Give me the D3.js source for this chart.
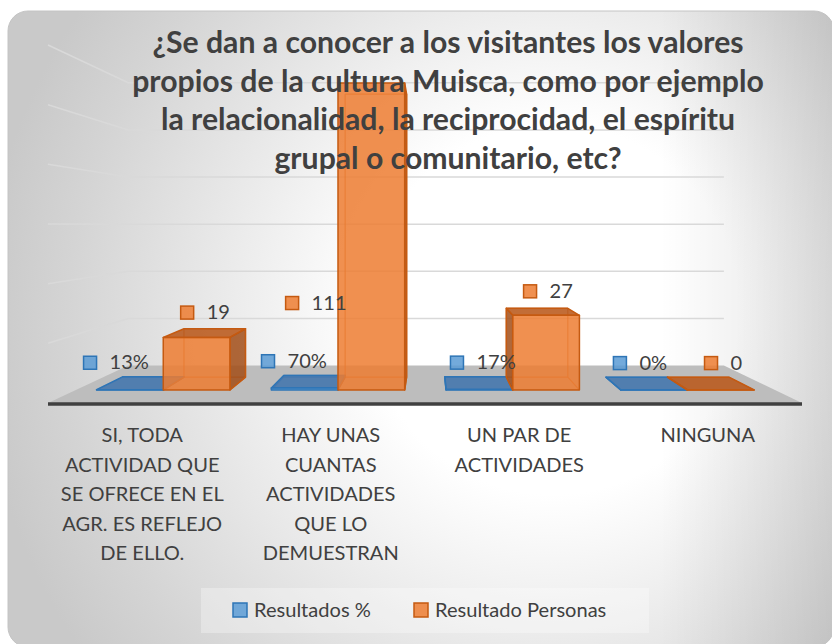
<!DOCTYPE html>
<html>
<head>
<meta charset="utf-8">
<script src="https://cdn.jsdelivr.net/npm/d3@7"></script>
<style>
  body { margin: 0; background: #fff; }
  svg { display: block; }
</style>
</head>
<body>
<div id="chart"></div>
<script>
// data
const categories = [
  "SI, TODA ACTIVIDAD QUE SE OFRECE EN EL AGR. ES REFLEJO DE ELLO.",
  "HAY UNAS CUANTAS ACTIVIDADES QUE LO DEMUESTRAN",
  "UN PAR DE ACTIVIDADES",
  "NINGUNA"
];
const categoryLines = [
  ["SI, TODA", "ACTIVIDAD QUE", "SE OFRECE EN EL", "AGR. ES REFLEJO", "DE ELLO."],
  ["HAY UNAS", "CUANTAS", "ACTIVIDADES", "QUE LO", "DEMUESTRAN"],
  ["UN PAR DE", "ACTIVIDADES"],
  ["NINGUNA"]
];
const seriesNames = ["Resultados %", "Resultado Personas"];
const pctValues = [0.13, 0.70, 0.17, 0.00];
const personValues = [19, 111, 27, 0];
const yTicks = [20, 40, 60, 80, 100, 120];
const titleLines = [
  "¿Se dan a conocer a los visitantes los valores",
  "propios de la cultura Muisca, como por ejemplo",
  "la relacionalidad, la reciprocidad, el espíritu",
  "grupal o comunitario, etc?"
];

// layout
const width = 832;
const height = 644;
const FONT = "Lato, 'Open Sans', sans-serif";
const textColor = "#404040";
const vp = { x: 430, y: 225 };          // vanishing point of the 3D view
const depth = { front: 1, back: 0.79, barFront: 0.927, barBack: 0.855 };
// label nudges (Excel places the 3D labels a bit freely)
const labelDx = [[-32, -22, -1, -6], [1, -62, 8, 21]];
const labelDy = [[0, 0, 0, 0], [0, 235, 0, 0]];

const colors = [
  { front: "#5B9BD5", top: "#4275AD", side: "#2F5A8A", edge: "#2E75B6" },
  { front: "#ED7D31", top: "#B9591B", side: "#A24E18", edge: "#C55A11" }
];

const svg = d3
  .select("#chart")
  .append("svg")
  .attr("width", width)
  .attr("height", height);

const defs = svg.append("defs");
const bg = defs
  .append("radialGradient")
  .attr("id", "bg")
  .attr("gradientUnits", "userSpaceOnUse")
  .attr("cx", 540)
  .attr("cy", 330)
  .attr("r", 560)
  .attr("fx", 560)
  .attr("fy", 300);
bg.append("stop").attr("offset", 0).attr("stop-color", "#ffffff");
bg.append("stop").attr("offset", 0.33).attr("stop-color", "#ffffff");
bg.append("stop").attr("offset", 0.85).attr("stop-color", "#d4d4d4");
bg.append("stop").attr("offset", 1).attr("stop-color", "#c9c9c9");

const rightShade = defs
  .append("linearGradient")
  .attr("id", "rightShade")
  .attr("gradientUnits", "userSpaceOnUse")
  .attr("x1", 660).attr("x2", 832).attr("y1", 0).attr("y2", 0);
rightShade.append("stop").attr("offset", 0).attr("stop-color", "#000").attr("stop-opacity", 0);
rightShade.append("stop").attr("offset", 1).attr("stop-color", "#000").attr("stop-opacity", 0.11);

const frame = { x: 8, y: 11, w: 826, h: 636, r: 20 };

svg.append("rect")
  .attr("x", frame.x).attr("y", frame.y)
  .attr("width", frame.w).attr("height", frame.h)
  .attr("rx", frame.r)
  .attr("fill", "url(#bg)");

svg.append("rect")
  .attr("x", frame.x).attr("y", frame.y)
  .attr("width", frame.w).attr("height", frame.h)
  .attr("rx", frame.r)
  .attr("fill", "url(#rightShade)")
  .attr("stroke", "#c4c4c4")
  .attr("stroke-width", 1);

function fitFont(str, weight, target) {
  const t = svg.append("text")
    .attr("font-family", FONT)
    .attr("font-weight", weight)
    .attr("font-size", 100)
    .text(str);
  const w = t.node().getComputedTextLength();
  t.remove();
  return (100 * target) / w;
}

const titleSize = fitFont(titleLines[1], "bold", 632);
const labelSize = fitFont("SE OFRECE EN EL", "normal", 163);

// scales
const x = d3.scaleBand().domain(categories).range([48, 802]);
const xs = d3.scaleBand().domain(seriesNames).range([0, x.bandwidth()]).paddingOuter(0.31);
const y = d3.scaleLinear().domain([0, 120]).range([403, 45]);

const P = (X, Y, s) => [vp.x + (X - vp.x) * s, vp.y + (Y - vp.y) * s];
const line = d3.line();

// walls: left side and back gridlines
const grid = svg.append("g")
  .attr("fill", "none")
  .attr("stroke", "#d9d9d9")
  .attr("stroke-width", 1.5);

grid.selectAll("path")
  .data(yTicks)
  .join("path")
  .attr("d", (v) =>
    line([
      P(48, y(v), depth.front),
      P(48, y(v), depth.back),
      P(802, y(v), depth.back)
    ])
  );

// floor
svg.append("path")
  .attr("d", line([
    P(48, y(0), depth.front),
    P(802, y(0), depth.front),
    P(802, y(0), depth.back),
    P(48, y(0), depth.back)
  ]) + "Z")
  .attr("fill", "#bdbdbd");

svg.append("line")
  .attr("x1", 48).attr("x2", 802)
  .attr("y1", y(0) + 1).attr("y2", y(0) + 1)
  .attr("stroke", "#404040")
  .attr("stroke-width", 3.5);

// bars as 3D boxes
const bars = [];
categories.forEach((c, i) => {
  [pctValues[i], personValues[i]].forEach((v, k) => {
    bars.push({ cat: c, i, k, value: v, series: seriesNames[k] });
  });
});

const barG = svg.append("g");

bars.forEach((d) => {
  const a = x(d.cat) + xs(d.series);
  const b = a + xs.bandwidth();
  const top = y(d.value);
  const bot = y(0);
  const s1 = depth.barFront;
  const s2 = depth.barBack;
  const col = colors[d.k];
  const g = barG.append("g").attr("stroke-linejoin", "round");

  const face = (pts, fill, op) =>
    g.append("path")
      .attr("d", line(pts) + "Z")
      .attr("fill", fill)
      .attr("fill-opacity", op)
      .attr("stroke", col.edge)
      .attr("stroke-width", 1.5);

  // hidden edges seen through the box
  g.append("path")
    .attr("d", line([P(a, bot, s1), P(a, bot, s2), P(b, bot, s2), P(b, bot, s1)]) +
      "M" + P(a, bot, s2) + "L" + P(a, top, s2) +
      "M" + P(b, bot, s2) + "L" + P(b, top, s2) +
      "M" + P(a, top, s2) + "L" + P(b, top, s2))
    .attr("fill", "none")
    .attr("stroke", col.edge)
    .attr("stroke-opacity", 0.7)
    .attr("stroke-width", 1.2);

  if (top > vp.y) {
    face([P(a, top, s1), P(b, top, s1), P(b, top, s2), P(a, top, s2)], col.top, 0.88);
  }
  if (b < vp.x) {
    face([P(b, top, s1), P(b, top, s2), P(b, bot, s2), P(b, bot, s1)], col.side, 0.85);
  }
  if (a > vp.x) {
    face([P(a, top, s1), P(a, top, s2), P(a, bot, s2), P(a, bot, s1)], col.side, 0.85);
  }
  face([P(a, top, s1), P(b, top, s1), P(b, bot, s1), P(a, bot, s1)], col.front, 0.85);
});

// title
svg.append("g")
  .attr("font-family", FONT)
  .attr("font-weight", "bold")
  .attr("font-size", titleSize)
  .attr("fill", textColor)
  .attr("text-anchor", "middle")
  .selectAll("text")
  .data(titleLines)
  .join("text")
  .attr("x", 448)
  .attr("y", (d, i) => 53 + i * 38.6)
  .text((d) => d);

// data labels
const fmtPct = d3.format(".0%");
const labelG = svg.append("g")
  .attr("font-family", FONT)
  .attr("font-size", labelSize)
  .attr("fill", textColor);

bars.forEach((d) => {
  const a = x(d.cat) + xs(d.series);
  const cx = a + xs.bandwidth() / 2;
  const sMid = (depth.barFront + depth.barBack) / 2;
  const [px, py] = P(cx, y(d.value), sMid);
  const tx = px + labelDx[d.k][d.i];
  const ty = py - 14 + labelDy[d.k][d.i];
  const col = colors[d.k];
  labelG.append("rect")
    .attr("x", tx - 26).attr("y", ty - 13)
    .attr("width", 13).attr("height", 13)
    .attr("fill", col.front)
    .attr("fill-opacity", 0.85)
    .attr("stroke", col.edge)
    .attr("stroke-width", 1.5);
  labelG.append("text")
    .attr("x", tx)
    .attr("y", ty)
    .text(d.k === 0 ? fmtPct(d.value) : d.value);
});

// category labels
const catG = svg.append("g")
  .attr("font-family", FONT)
  .attr("font-size", labelSize)
  .attr("fill", textColor)
  .attr("text-anchor", "middle");

categories.forEach((c, i) => {
  catG.append("text")
    .attr("x", x(c) + x.bandwidth() / 2)
    .attr("y", 442)
    .selectAll("tspan")
    .data(categoryLines[i])
    .join("tspan")
    .attr("x", x(c) + x.bandwidth() / 2)
    .attr("dy", (d, j) => (j === 0 ? 0 : 29.5))
    .text((d) => d);
});

// legend
const legend = svg.append("g")
  .attr("font-family", FONT)
  .attr("font-size", labelSize)
  .attr("fill", textColor);

legend.append("rect")
  .attr("x", 201).attr("y", 588)
  .attr("width", 448).attr("height", 45)
  .attr("fill", "#ffffff")
  .attr("fill-opacity", 0.3);

const legendX = [233, 414];
seriesNames.forEach((name, k) => {
  legend.append("rect")
    .attr("x", legendX[k]).attr("y", 603)
    .attr("width", 14).attr("height", 14)
    .attr("fill", colors[k].front)
    .attr("fill-opacity", 0.85)
    .attr("stroke", colors[k].edge)
    .attr("stroke-width", 1.5);
  legend.append("text")
    .attr("x", legendX[k] + 21)
    .attr("y", 617)
    .text(name);
});
</script>
</body>
</html>
